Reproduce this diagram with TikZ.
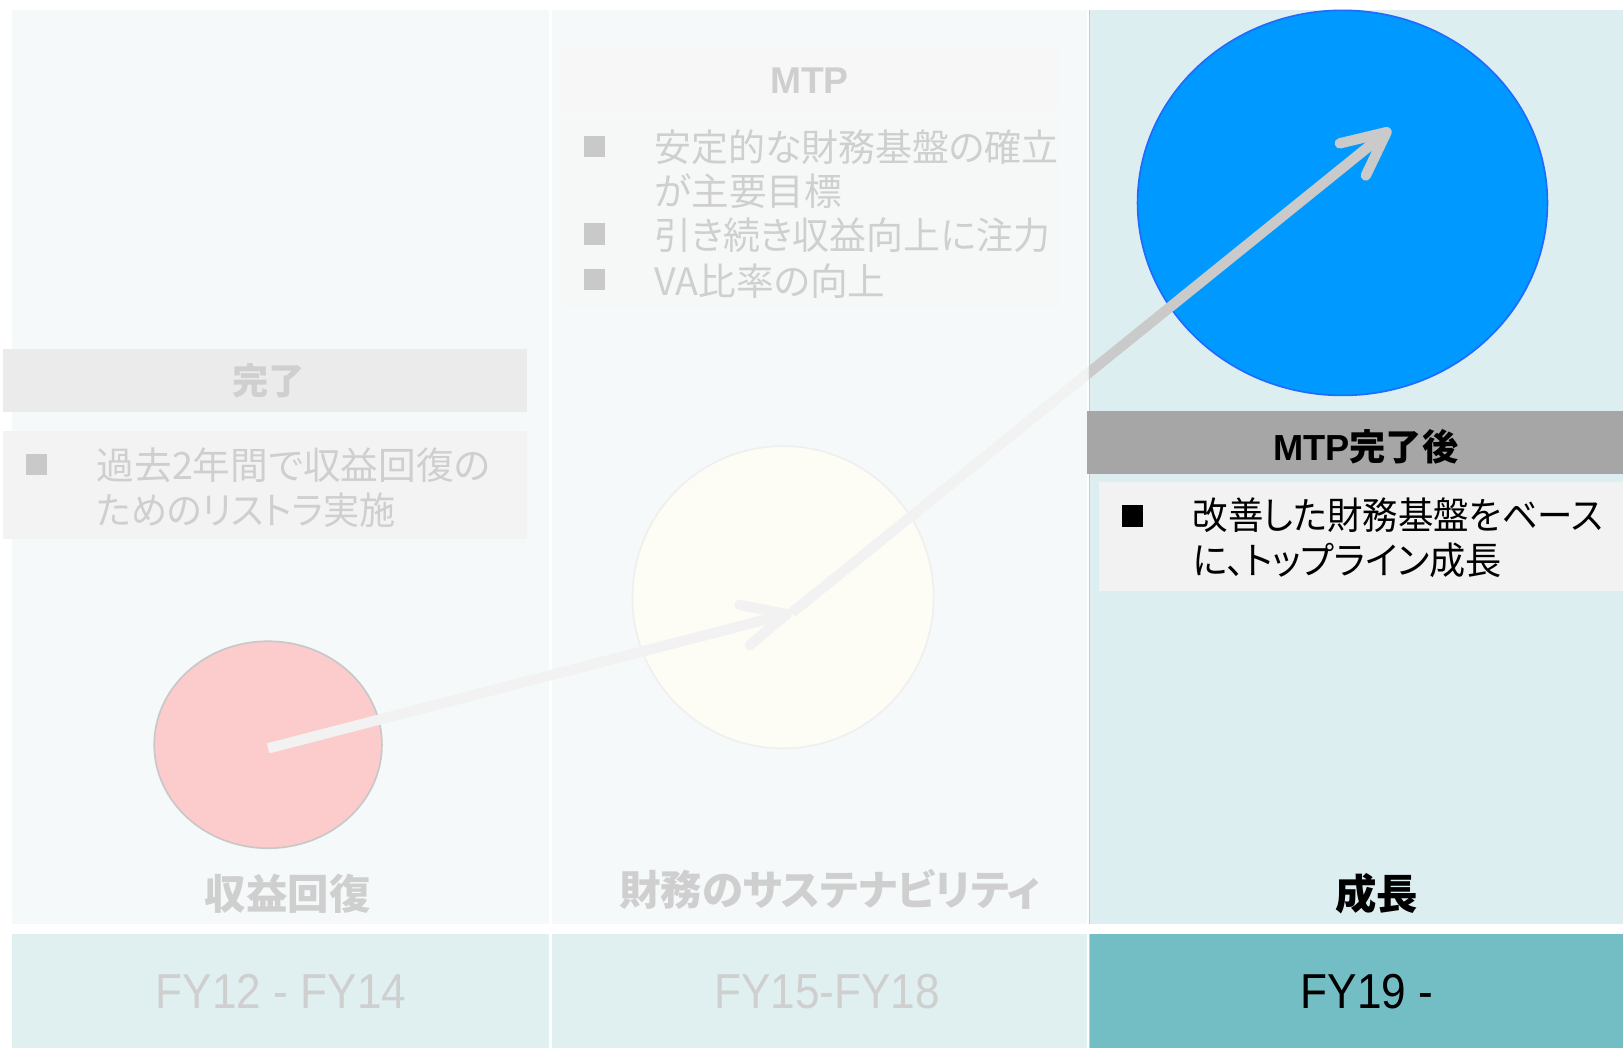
\documentclass[tikz,border=0pt]{standalone}
\usepackage{fontspec}
\setmainfont{Noto Sans CJK JP}
\newfontfamily\lsans{Liberation Sans}
\newfontfamily\fyfont{Liberation Sans}[FakeStretch=0.9]
\newfontfamily\jpp{Noto Sans CJK JP}[RawFeature=+palt]
\usetikzlibrary{arrows.meta,shapes.geometric}
\definecolor{colbg}{HTML}{F5F9FA}
\definecolor{colbgT}{HTML}{DCEEF0}
\definecolor{botbg}{HTML}{E0F0F0}
\definecolor{botbgT}{HTML}{72BEC4}
\definecolor{fadetxt}{HTML}{CFCFCF}
\definecolor{fadebul}{HTML}{C9C9C9}
\definecolor{hdrA}{HTML}{EBEBEB}
\definecolor{boxA}{HTML}{F3F3F3}
\definecolor{hdrB}{HTML}{F7F7F7}
\definecolor{boxB}{HTML}{F6F8F8}
\definecolor{hdrC}{HTML}{A6A6A6}
\definecolor{boxC}{HTML}{F2F2F2}
\definecolor{pinkfill}{HTML}{FCCBCB}
\definecolor{pinkline}{HTML}{C8C8C8}
\definecolor{yelfill}{HTML}{FEFDF5}
\definecolor{yelline}{HTML}{EFEFEF}
\definecolor{bluefill}{HTML}{0099FF}
\definecolor{blueline}{HTML}{1F6BFF}
\definecolor{arrlight}{HTML}{F2F2F2}
\definecolor{arrdark}{HTML}{CACACA}
\definecolor{tealline}{HTML}{A8D6DB}
\tikzset{
  txt/.style={inner sep=0pt, anchor=base west, font=\jpp\fontsize{18.2}{21}\selectfont},
  bul/.style={rectangle, minimum size=10.25pt, inner sep=0pt},
  lbl/.style={inner sep=0pt, anchor=base, font=\bfseries\fontsize{20}{24}\selectfont},
  fy/.style={inner sep=0pt, anchor=base, font=\fyfont\fontsize{23.7}{28}\selectfont},
  hdr/.style={inner sep=0pt, anchor=base, font=\bfseries\fontsize{17.5}{21}\selectfont},
  arr/.style={line width=5pt, -{Straight Barb[length=21pt,width=20pt,round]}},
  circ/.style={ellipse, inner sep=0pt, line width=0.8pt}
}
\begin{document}
\begin{tikzpicture}[x=0.5pt,y=-0.5pt]
\useasboundingbox[fill=white] (0,0) rectangle (1568,1012);
% column backgrounds
\fill[colbg] (12,10) rectangle (530.5,893);
\fill[colbg] (533.5,10) rectangle (1050,893);
\fill[colbgT] (1052.5,10) rectangle (1568,893);
\draw[tealline, line width=0.6pt] (1052.8,10) -- (1052.8,893);
\fill[botbg] (12,902) rectangle (530.5,1012);
\fill[botbg] (533.5,902) rectangle (1050,1012);
\fill[botbgT] (1052.5,902) rectangle (1568,1012);
\draw[tealline, line width=0.6pt] (1052.8,902) -- (1052.8,1012);
% column 1 boxes
\fill[hdrA] (3,337) rectangle (509,398.5);
\fill[boxA] (3,416.5) rectangle (509,521);
% column 2 boxes
\fill[hdrB] (542,46.5) rectangle (1022,107);
\fill[boxB] (542,114) rectangle (1022,297);
% column 3 boxes
\fill[hdrC] (1050,397) rectangle (1568,458);
\fill[boxC] (1062,466) rectangle (1568,571);

% ellipses
\node[circ, fill=pinkfill, draw=pinkline, minimum width=110pt, minimum height=100pt] (pink) at (259,719.5) {};
\node[circ, fill=yelfill, draw=yelline, minimum width=145.5pt, minimum height=146pt] (yel) at (756.5,577) {};
\node[circ, fill=bluefill, draw=blueline, minimum width=198pt, minimum height=186pt] (blue) at (1297,196) {};

% headers
\node[hdr, text=fadetxt] (h1) at (259.7,381) {完了};
\node[hdr, text=fadetxt, font=\lsans\bfseries\fontsize{18}{21}\selectfont] (h2) at (782,90) {MTP};
\node[hdr, text=black] (h3) at (1319.5,444.5) {{\lsans MTP}完了後};

% bullets column 1
\node[bul, fill=fadebul] (b11) at (35,449) {};
\node[txt, text=fadetxt] (t11a) at (93,463) {過去2年間で収益回復の};
\node[txt, text=fadetxt] (t11b) at (93,506.5) {\scalebox{0.96}[1]{ためのリストラ実施}};
% bullets column 2
\node[bul, fill=fadebul] (b21) at (574,141.5) {};
\node[bul, fill=fadebul] (b22) at (574,226) {};
\node[bul, fill=fadebul] (b23) at (574,270) {};
\node[txt, text=fadetxt] (t21a) at (632,156.5) {\scalebox{0.98}[1]{安定的な財務基盤の確立}};
\node[txt, text=fadetxt] (t21b) at (632,199) {が主要目標};
\node[txt, text=fadetxt] (t22) at (632,241) {\scalebox{0.98}[1]{引き続き収益向上に注力}};
\node[txt, text=fadetxt] (t23) at (632,285.5) {VA比率の向上};
% bullets column 3
\node[bul, fill=black] (b31) at (1094,498.5) {};
\node[txt, text=black] (t31a) at (1152,512) {\scalebox{0.94}[1]{改善した財務基盤をベース}};
\node[txt, text=black] (t31b) at (1152,555.5) {\scalebox{0.96}[1]{に、トップライン成長}};

% labels
\node[lbl, text=fadetxt] (l1) at (278,878.6) {収益回復};
\node[lbl, text=fadetxt, font=\jpp\bfseries\fontsize{20}{24}\selectfont] (l2) at (801.5,874.6) {財務のサステナビリティ};
\node[lbl, text=black] (l3) at (1330,878.6) {成長};

% period labels
\node[fy, text=fadetxt] (p1) at (271.5,974) {FY12 - FY14};
\node[fy, text=fadetxt] (p2) at (799,974) {FY15-FY18};
\node[fy, text=black] (p3) at (1320.7,974) {FY19 -};

% arrows
\coordinate (a1s) at (259,723);
\coordinate (a1e) at (765,592);
\coordinate (a2e) at (1343.5,124.5);
\draw[arr, draw=arrlight] (a1s) -- (a1e);
\begin{scope}
  \clip (0,0) rectangle (1052,1012);
  \draw[arr, draw=arrlight] (a1e) -- (a2e);
\end{scope}
\begin{scope}
  \clip (1052,0) rectangle (1568,1012);
  \draw[arr, draw=arrdark] (a1e) -- (a2e);
\end{scope}
\end{tikzpicture}
\end{document}
